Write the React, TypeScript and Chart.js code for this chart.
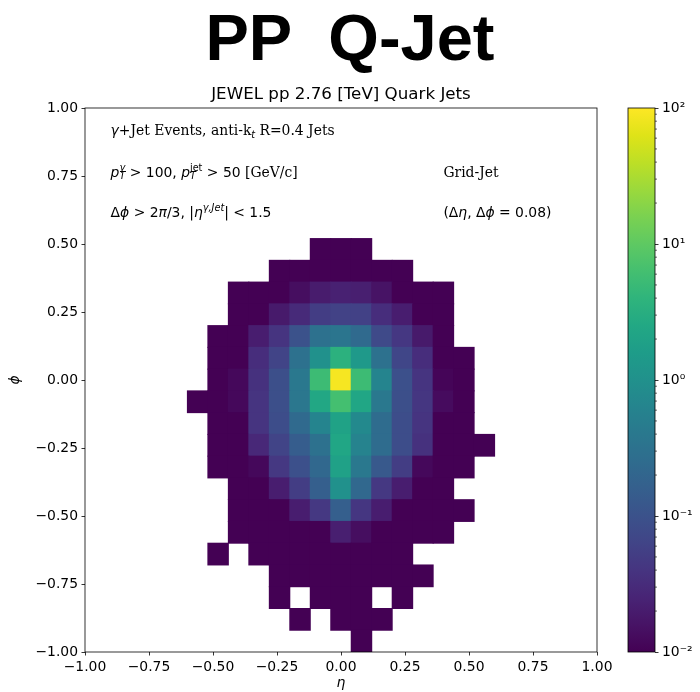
import React, { useEffect, useRef } from 'react';
import { Chart, registerables } from 'chart.js';

Chart.register(...registerables);

// Bin centres of the eta-phi grid (bin width 0.08 in both directions)
const ETA_CENTERS = [-0.56, -0.48, -0.4, -0.32, -0.24, -0.16, -0.08, 0.0, 0.08, 0.16, 0.24, 0.32, 0.4, 0.48, 0.56];
const PHI_CENTERS = [0.48, 0.4, 0.32, 0.24, 0.16, 0.08, 0.0, -0.08, -0.16, -0.24, -0.32, -0.4, -0.48, -0.56, -0.64, -0.72, -0.8, -0.88, -0.96];
const BIN_WIDTH = 0.08;

const _ = null;
// One row per phi bin (top to bottom), one column per eta bin (left to right); null = empty bin
const DENSITY: (number | null)[][] = [
  [_, _, _, _, _, _, 0.01, 0.01, 0.01, _, _, _, _, _, _],
  [_, _, _, _, 0.01, 0.01, 0.01, 0.01, 0.01, 0.01, 0.01, _, _, _, _],
  [_, _, 0.01, 0.01, 0.01, 0.014, 0.02, 0.023, 0.022, 0.016, 0.01, 0.01, 0.01, _, _],
  [_, _, 0.01, 0.01, 0.019, 0.03, 0.052, 0.06, 0.058, 0.033, 0.021, 0.01, 0.01, _, _],
  [_, 0.01, 0.01, 0.021, 0.04, 0.1, 0.3, 0.36, 0.23, 0.076, 0.044, 0.019, 0.01, _, _],
  [_, 0.01, 0.01, 0.033, 0.063, 0.3, 1.0, 3.6, 1.4, 0.3, 0.068, 0.033, 0.01, 0.01, _],
  [_, 0.01, 0.012, 0.037, 0.09, 0.4, 5.4, 90, 5.4, 0.63, 0.095, 0.04, 0.011, 0.01, _],
  [0.01, 0.01, 0.012, 0.04, 0.09, 0.38, 2.4, 6.3, 2.3, 0.4, 0.09, 0.042, 0.013, 0.01, _],
  [_, 0.01, 0.01, 0.04, 0.085, 0.23, 0.63, 2.0, 0.75, 0.25, 0.085, 0.04, 0.01, 0.01, _],
  [_, 0.01, 0.01, 0.028, 0.063, 0.15, 0.3, 2.3, 0.6, 0.25, 0.085, 0.036, 0.01, 0.01, 0.01],
  [_, 0.01, 0.01, 0.012, 0.045, 0.095, 0.22, 1.9, 0.4, 0.13, 0.052, 0.012, 0.01, 0.01, _],
  [_, _, 0.01, 0.01, 0.021, 0.052, 0.16, 1.0, 0.22, 0.045, 0.021, 0.01, 0.01, _, _],
  [_, _, 0.01, 0.01, 0.01, 0.021, 0.045, 0.16, 0.042, 0.021, 0.01, 0.01, 0.01, 0.01, _],
  [_, _, 0.01, 0.01, 0.01, 0.01, 0.01, 0.022, 0.014, 0.01, 0.01, 0.01, 0.01, _, _],
  [_, 0.01, _, 0.01, 0.01, 0.01, 0.01, 0.01, 0.01, 0.01, 0.01, _, _, _, _],
  [_, _, _, _, 0.01, 0.01, 0.01, 0.01, 0.01, 0.01, 0.01, 0.01, _, _, _],
  [_, _, _, _, 0.01, _, 0.01, 0.01, 0.01, _, 0.01, _, _, _, _],
  [_, _, _, _, _, 0.01, _, 0.01, 0.01, 0.01, _, _, _, _, _],
  [_, _, _, _, _, _, _, _, 0.01, _, _, _, _, _, _],
];

// Colour scale limits (log norm) and colour bar ticks
const COLOR_MIN = 0.01;
const COLOR_MAX = 100;
const COLORBAR_TICKS = [0.01, 0.1, 1, 10, 100];
const COLORBAR_MINOR = [2, 3, 4, 5, 6, 7, 8, 9];

// Viridis, sampled every 0.05
const VIRIDIS = [
  '#440154', '#471365', '#482475', '#463480', '#414487', '#3b528b', '#355f8d',
  '#2f6c8e', '#2a788e', '#25848e', '#21918c', '#1e9c89', '#22a884', '#2fb47c',
  '#44bf70', '#5ec962', '#7ad151', '#9bd93c', '#bddf26', '#dfe318', '#fde725',
];

const SANS = '"DejaVu Sans"';
const SERIF = '"DejaVu Serif"';
const BASE = 13.9;
const SMALL = 9.7;

function hexToRgb(h: string): number[] {
  return [parseInt(h.slice(1, 3), 16), parseInt(h.slice(3, 5), 16), parseInt(h.slice(5, 7), 16)];
}
const VIRIDIS_RGB = VIRIDIS.map(hexToRgb);

function viridis(t: number): string {
  const c = Math.min(1, Math.max(0, t));
  const pos = c * (VIRIDIS_RGB.length - 1);
  const k = Math.min(VIRIDIS_RGB.length - 2, Math.floor(pos));
  const f = pos - k;
  const a = VIRIDIS_RGB[k];
  const b = VIRIDIS_RGB[k + 1];
  const rgb = a.map((v, i) => Math.round(v + (b[i] - v) * f));
  return `rgb(${rgb[0]},${rgb[1]},${rgb[2]})`;
}

function colorFor(v: number): string {
  const lo = Math.log10(COLOR_MIN);
  const hi = Math.log10(COLOR_MAX);
  return viridis((Math.log10(v) - lo) / (hi - lo));
}

function fmtTick(v: number): string {
  const r = Math.round(v * 100) / 100;
  if (Math.abs(r) < 1e-9) return '0.00';
  return (r < 0 ? '\u2212' : '') + Math.abs(r).toFixed(2);
}

const SUP: Record<string, string> = { '-': '\u207b', '0': '\u2070', '1': '\u00b9', '2': '\u00b2', '3': '\u00b3' };
function fmtPower(v: number): string {
  const e = Math.round(Math.log10(v));
  return '10' + String(e).split('').map((ch) => SUP[ch] ?? ch).join('');
}

type Run = { t: string; font: string; dy?: number; overlay?: boolean };

const it = (s: number) => `italic ${s}px ${SANS}`;
const rm = (s: number) => `${s}px ${SANS}`;
const sf = (s: number) => `${s}px ${SERIF}`;

type Note = { x: number; y: number; runs: Run[] };
const NOTES: Note[] = [
  {
    x: -0.9, y: 0.9,
    runs: [
      { t: 'γ', font: it(BASE) },
      { t: '+Jet Events, anti-k', font: sf(BASE) },
      { t: 't', font: it(SMALL), dy: 2.9 },
      { t: ' R=0.4 Jets', font: sf(BASE) },
    ],
  },
  {
    x: -0.9, y: 0.748,
    runs: [
      { t: 'p', font: it(BASE) },
      { t: 'T', font: it(SMALL), dy: 2.9 },
      { t: 'γ', font: it(SMALL), dy: -6, overlay: true },
      { t: ' > 100, ', font: rm(BASE) },
      { t: 'p', font: it(BASE) },
      { t: 'T', font: it(SMALL), dy: 2.9 },
      { t: 'jet', font: rm(SMALL), dy: -6, overlay: true },
      { t: ' > 50 ', font: rm(BASE) },
      { t: '[GeV/c]', font: sf(BASE) },
    ],
  },
  {
    x: -0.9, y: 0.598,
    runs: [
      { t: 'Δ', font: rm(BASE) },
      { t: 'ϕ', font: it(BASE) },
      { t: ' > 2', font: rm(BASE) },
      { t: 'π', font: it(BASE) },
      { t: '/3, |', font: rm(BASE) },
      { t: 'η', font: it(BASE) },
      { t: 'γ,Jet', font: it(SMALL), dy: -6 },
      { t: '| < 1.5', font: rm(BASE) },
    ],
  },
  { x: 0.4, y: 0.748, runs: [{ t: 'Grid-Jet', font: sf(BASE) }] },
  {
    x: 0.4, y: 0.598,
    runs: [
      { t: '(Δ', font: rm(BASE) },
      { t: 'η', font: it(BASE) },
      { t: ', Δ', font: rm(BASE) },
      { t: 'ϕ', font: it(BASE) },
      { t: ' = 0.08)', font: rm(BASE) },
    ],
  },
];

function drawRuns(ctx: CanvasRenderingContext2D, runs: Run[], x: number, y: number) {
  let cx = x;
  let prevStart = x;
  let prevWidth = 0;
  for (const r of runs) {
    ctx.font = r.font;
    const w = ctx.measureText(r.t).width;
    if (r.overlay) {
      ctx.fillText(r.t, prevStart, y + (r.dy || 0));
      cx = prevStart + Math.max(prevWidth, w);
    } else {
      ctx.fillText(r.t, cx, y + (r.dy || 0));
      prevStart = cx;
      prevWidth = w;
      cx += w;
    }
  }
}

const framePlugin = {
  id: 'frameAndNotes',
  afterDraw(chart: any) {
    const { ctx, chartArea: a, scales } = chart;
    ctx.save();
    ctx.strokeStyle = '#000';
    ctx.lineWidth = 0.8;
    ctx.strokeRect(a.left, a.top, a.right - a.left, a.bottom - a.top);

    ctx.fillStyle = '#000';
    ctx.textBaseline = 'alphabetic';
    ctx.textAlign = 'left';
    for (const n of NOTES) {
      drawRuns(ctx, n.runs, scales.x.getPixelForValue(n.x), scales.y.getPixelForValue(n.y));
    }

    ctx.textAlign = 'center';
    ctx.font = `bold 65px "Liberation Sans"`;
    ctx.fillText('PP  Q-Jet', chart.width / 2, 60);
    ctx.font = `16.7px ${SANS}`;
    ctx.fillText('JEWEL pp 2.76 [TeV] Quark Jets', (a.left + a.right) / 2, 99);
    ctx.restore();
  },
};

const colorbarPlugin = {
  id: 'colorbarFill',
  afterDraw(chart: any) {
    const { ctx, chartArea: a, scales } = chart;
    ctx.save();
    const g = ctx.createLinearGradient(0, a.bottom, 0, a.top);
    VIRIDIS.forEach((c, i) => g.addColorStop(i / (VIRIDIS.length - 1), c));
    ctx.fillStyle = g;
    ctx.fillRect(a.left, a.top, a.right - a.left, a.bottom - a.top);
    ctx.strokeStyle = '#000';
    ctx.lineWidth = 0.8;
    ctx.strokeRect(a.left, a.top, a.right - a.left, a.bottom - a.top);
    // minor ticks between decades
    ctx.lineWidth = 0.6;
    ctx.beginPath();
    for (let d = 0; d < COLORBAR_TICKS.length - 1; d++) {
      for (const m of COLORBAR_MINOR) {
        const py = scales.y.getPixelForValue(COLORBAR_TICKS[d] * m);
        ctx.moveTo(a.right, py);
        ctx.lineTo(a.right + 2, py);
      }
    }
    ctx.stroke();
    ctx.restore();
  },
};

const tickFont = { family: 'DejaVu Sans', size: BASE };

export default function App() {
  const mainRef = useRef<HTMLCanvasElement>(null);
  const cbRef = useRef<HTMLCanvasElement>(null);

  useEffect(() => {
    const cells: { x: number; y: number[]; v: number }[] = [];
    PHI_CENTERS.forEach((phi, r) => {
      ETA_CENTERS.forEach((eta, c) => {
        const v = DENSITY[r][c];
        if (v != null) cells.push({ x: eta, y: [phi - BIN_WIDTH / 2, phi + BIN_WIDTH / 2], v });
      });
    });

    const main = new Chart(mainRef.current!, {
      type: 'bar',
      data: {
        datasets: [
          {
            data: cells as any,
            backgroundColor: (ctx: any) => (ctx.raw ? colorFor(ctx.raw.v) : VIRIDIS[0]),
            borderWidth: 0,
            barPercentage: 1,
            categoryPercentage: 1,
            inflateAmount: 0.5,
          } as any,
        ],
      },
      options: {
        animation: false,
        responsive: false,
        devicePixelRatio: 1,
        events: [],
        layout: { padding: { left: 0, top: 108, right: 103, bottom: 0 } },
        plugins: { legend: { display: false }, tooltip: { enabled: false }, title: { display: false } },
        scales: {
          x: {
            type: 'linear',
            min: -1,
            max: 1,
            offset: false,
            grid: { display: true, offset: false, drawOnChartArea: false, drawTicks: true, tickLength: 3.5, tickWidth: 0.8, tickColor: '#000' },
            border: { display: false },
            ticks: { stepSize: 0.25, padding: 3.5, color: '#000', font: tickFont, autoSkip: false, maxRotation: 0, callback: (v: any) => fmtTick(Number(v)) },
            title: { display: true, text: 'η', color: '#000', font: { family: 'DejaVu Sans', size: BASE, style: 'italic' }, padding: { top: 0, bottom: 0 } },
            afterFit: (s: any) => { s.height = 40; },
          },
          y: {
            type: 'linear',
            min: -1,
            max: 1,
            beginAtZero: false,
            grid: { display: true, drawOnChartArea: false, drawTicks: true, tickLength: 3.5, tickWidth: 0.8, tickColor: '#000' },
            border: { display: false },
            ticks: { stepSize: 0.25, padding: 3.5, color: '#000', font: tickFont, autoSkip: false, callback: (v: any) => fmtTick(Number(v)) },
            title: { display: true, text: 'ϕ', color: '#000', font: { family: 'DejaVu Sans', size: BASE, style: 'italic' }, padding: { top: 7, bottom: 0 } },
            afterFit: (s: any) => { s.width = 85; },
          },
        },
      } as any,
      plugins: [framePlugin],
    });

    const cb = new Chart(cbRef.current!, {
      type: 'scatter',
      data: { datasets: [] },
      options: {
        animation: false,
        responsive: false,
        devicePixelRatio: 1,
        events: [],
        layout: { padding: { left: 28, top: 108, right: 0, bottom: 40 } },
        plugins: { legend: { display: false }, tooltip: { enabled: false } },
        scales: {
          x: { display: false, min: 0, max: 1 },
          y: {
            type: 'logarithmic',
            position: 'right',
            min: COLOR_MIN,
            max: COLOR_MAX,
            afterBuildTicks: (s: any) => { s.ticks = COLORBAR_TICKS.map((value) => ({ value, major: true })); },
            grid: { display: true, drawOnChartArea: false, drawTicks: true, tickLength: 3.5, tickWidth: 0.8, tickColor: '#000' },
            border: { display: false },
            ticks: { padding: 3.5, color: '#000', font: tickFont, autoSkip: false, callback: (v: any) => fmtPower(Number(v)) },
            afterFit: (s: any) => { s.width = 45; },
          },
        },
      } as any,
      plugins: [colorbarPlugin],
    });

    return () => {
      main.destroy();
      cb.destroy();
    };
  }, []);

  return (
    <div style={{ position: 'absolute', left: 0, top: 0, width: 700, height: 692, background: '#fff' }}>
      <canvas ref={mainRef} width={700} height={692} style={{ position: 'absolute', left: 0, top: 0 }} />
      <canvas ref={cbRef} width={100} height={692} style={{ position: 'absolute', left: 600, top: 0 }} />
    </div>
  );
}
